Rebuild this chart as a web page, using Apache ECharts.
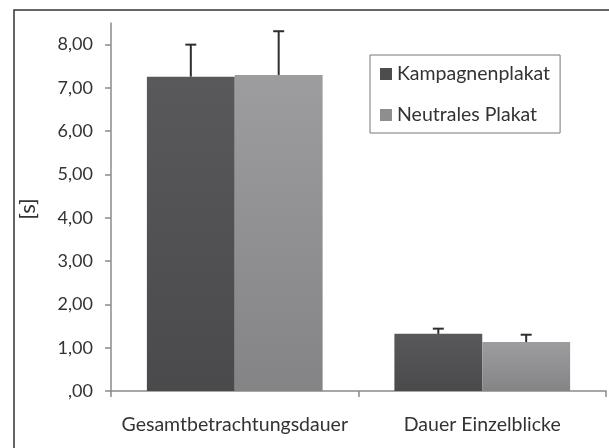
<!DOCTYPE html>
<html>
<head>
<meta charset="utf-8">
<script src="https://cdn.jsdelivr.net/npm/echarts@6/dist/echarts.min.js"></script>
<style>
  html, body { margin: 0; padding: 0; background: #fff; }
  #main { width: 609px; height: 448px; }
</style>
</head>
<body>
<div id="main"></div>
<script>
// data
var categories = ["Gesamtbetrachtungsdauer", "Dauer Einzelblicke"];
var seriesNames = ["Kampagnenplakat", "Neutrales Plakat"];
var kampagneValues = [7.26, 1.32];
var neutralValues = [7.30, 1.13];
var kampagneErrTop = [8.00, 1.44];
var neutralErrTop = [8.31, 1.30];
var yTickValues = [0, 1, 2, 3, 4, 5, 6, 7, 8];
var yTickLabels = [",00", "1,00", "2,00", "3,00", "4,00", "5,00", "6,00", "7,00", "8,00"];

var font = "Lato, 'Liberation Sans', sans-serif";
var textColor = "#333";
var gapPct = 29;

var myChart = echarts.init(document.getElementById("main"));

function errorSeries(name, values, tops, side) {
  var data = [];
  for (var i = 0; i < values.length; i++) {
    data.push([i, tops[i], values[i]]);
  }
  return {
    name: name + " error",
    type: "custom",
    z: 5,
    data: data,
    renderItem: function (params, api) {
      var band = api.size([1, 0])[0];
      var group = band * (1 - gapPct / 100);
      var dx = side * group / 4;
      var top = api.coord([api.value(0), api.value(1)]);
      var base = api.coord([api.value(0), api.value(2)]);
      var x = top[0] + dx;
      var style = { stroke: "#2e2e2e", lineWidth: 2 };
      return {
        type: "group",
        children: [
          { type: "line", shape: { x1: x, y1: top[1], x2: x, y2: base[1] }, style: style },
          { type: "line", shape: { x1: x - 5.5, y1: top[1], x2: x + 5.5, y2: top[1] }, style: style }
        ]
      };
    }
  };
}

var option = {
  animation: false,
  backgroundColor: "#fff",
  textStyle: { fontFamily: font },
  graphic: [
    {
      type: "rect",
      silent: true,
      z: -1,
      shape: { x: 14, y: 10, width: 640, height: 480 },
      style: { fill: "none", stroke: "#333", lineWidth: 1.5 }
    },
    {
      type: "text",
      silent: true,
      x: 28,
      y: 209,
      rotation: Math.PI / 2,
      style: {
        text: "[s]",
        fontFamily: font,
        fontSize: 22,
        fill: textColor,
        align: "center",
        verticalAlign: "middle"
      }
    }
  ],
  legend: {
    orient: "vertical",
    left: 370,
    top: 55,
    padding: [9, 10, 8, 10],
    itemGap: 21,
    itemWidth: 12,
    itemHeight: 12,
    icon: "rect",
    borderColor: "#777",
    borderWidth: 1,
    textStyle: { fontFamily: font, fontSize: 19.5, color: textColor }
  },
  grid: { left: 111, right: 3, top: 23, bottom: 57 },
  xAxis: {
    type: "category",
    data: categories,
    axisLine: { lineStyle: { color: "#8a8a8a", width: 1.5 } },
    axisTick: { show: true, length: 6, lineStyle: { color: "#8a8a8a", width: 1.5 } },
    axisLabel: { interval: 0, fontFamily: font, fontSize: 19.5, color: textColor, margin: 24 }
  },
  yAxis: {
    type: "value",
    min: 0,
    max: 8.5,
    interval: 1,
    splitLine: { show: false },
    axisLine: { show: true, lineStyle: { color: "#8a8a8a", width: 1.5 } },
    axisTick: { show: true, length: 6, customValues: yTickValues, lineStyle: { color: "#8a8a8a", width: 1.5 } },
    axisLabel: {
      customValues: yTickValues,
      fontFamily: font,
      fontSize: 18,
      color: textColor,
      margin: 18,
      formatter: function (v) {
        var i = yTickValues.indexOf(v);
        return i >= 0 ? yTickLabels[i] : "";
      }
    }
  },
  series: [
    {
      name: seriesNames[0],
      type: "bar",
      barCategoryGap: gapPct + "%",
      barGap: "0%",
      data: kampagneValues,
      itemStyle: {
        color: new echarts.graphic.LinearGradient(0, 0, 0, 1, [
          { offset: 0, color: "#59595b" },
          { offset: 1, color: "#4a4a4c" }
        ])
      }
    },
    {
      name: seriesNames[1],
      type: "bar",
      barCategoryGap: gapPct + "%",
      barGap: "0%",
      data: neutralValues,
      itemStyle: {
        color: new echarts.graphic.LinearGradient(0, 0, 0, 1, [
          { offset: 0, color: "#9d9da0" },
          { offset: 1, color: "#848487" }
        ])
      }
    },
    errorSeries(seriesNames[0], kampagneValues, kampagneErrTop, -1),
    errorSeries(seriesNames[1], neutralValues, neutralErrTop, 1)
  ]
};

// legend colours (solid swatches)
option.legend.data = [
  { name: seriesNames[0], itemStyle: { color: "#4d4d4f" } },
  { name: seriesNames[1], itemStyle: { color: "#8e8e91" } }
];

myChart.setOption(option);
</script>
</body>
</html>
